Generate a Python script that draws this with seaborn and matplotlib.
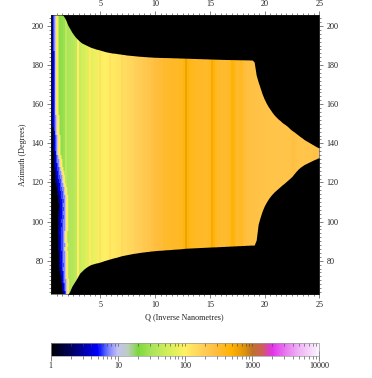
import numpy as np
import matplotlib
matplotlib.use("Agg")
import matplotlib.pyplot as plt
from matplotlib.colors import LinearSegmentedColormap, LogNorm
from matplotlib.ticker import FixedLocator, FixedFormatter, NullFormatter
import seaborn as sns

# Intensity read column by column (each value is one column, Q step about 0.18)
profile = [
    25, 25, 25, 24, 24, 25, 27, 42, 32, 34,
    36, 38, 42, 105, 50, 54, 58, 62, 66, 112,
    72, 76, 80, 85, 125, 90, 96, 100, 104, 125,
    110, 114, 118, 122, 126, 150, 136, 142, 150, 155,
    162, 170, 178, 185, 192, 200, 210, 220, 232, 245,
    258, 270, 285, 295, 305, 315, 325, 332, 340, 345,
    350, 355, 360, 365, 370, 380, 430, 620, 480, 400,
    385, 375, 365, 360, 355, 350, 345, 345, 350, 380,
    560, 470, 370, 345, 335, 330, 330, 330, 335, 360,
    480, 450, 350, 330, 350, 360, 310, 285, 275, 265,
    260, 260, 255, 255, 250, 250, 250, 245, 245, 245,
    245, 245, 240, 240, 240, 240, 245, 245, 245, 250,
    265, 270, 255, 245, 240, 240, 240, 240, 240, 245,
    245, 250, 250, 255,
]
# Upper limit of the covered azimuth for each column
top_azimuth = [
    206.1, 206.1, 206.1, 206.1, 206.1, 206.1, 204.9, 203.1, 200.5, 198.7,
    196.9, 195.4, 194.1, 193.1, 192.1, 191.3, 190.8, 190.3, 189.8, 189.3,
    188.9, 188.6, 188.2, 188.0, 187.7, 187.4, 187.1, 186.8, 186.6, 186.4,
    186.2, 186.1, 186.0, 185.8, 185.7, 185.5, 185.4, 185.2, 185.1, 185.0,
    184.9, 184.8, 184.7, 184.6, 184.5, 184.45, 184.35, 184.3, 184.2, 184.15,
    184.1, 184.0, 184.0, 183.95, 183.9, 183.9, 183.85, 183.85, 183.8, 183.8,
    183.75, 183.7, 183.7, 183.65, 183.6, 183.6, 183.55, 183.5, 183.5, 183.45,
    183.4, 183.4, 183.35, 183.3, 183.3, 183.25, 183.2, 183.2, 183.15, 183.1,
    183.1, 183.05, 183.0, 183.0, 182.95, 182.9, 182.9, 182.85, 182.85, 182.8,
    182.8, 182.8, 182.75, 182.75, 182.7, 182.7, 182.7, 182.65, 182.65, 182.6,
    182.6, 181.6, 174.9, 171.4, 168.3, 165.2, 162.7, 160.6, 158.8, 157.3,
    155.8, 154.5, 153.4, 152.4, 151.6, 150.6, 149.9, 149.2, 148.3, 147.3,
    146.5, 145.8, 145.0, 144.2, 143.4, 142.7, 141.9, 141.3, 140.7, 140.1,
    139.5, 138.9, 138.3, 137.8,
]
# Lower limit of the covered azimuth for each column
bottom_azimuth = [
    62, 62, 62, 62, 62, 62, 62, 62, 62.7, 64.4,
    66.8, 68.5, 70.1, 71.9, 73.7, 74.7, 75.7, 76.5, 77.2, 77.8,
    78.2, 78.5, 78.8, 79.0, 79.3, 79.6, 80.0, 80.3, 80.6, 80.9,
    81.2, 81.5, 81.7, 82.0, 82.3, 82.6, 82.8, 83.0, 83.2, 83.4,
    83.6, 83.8, 83.9, 84.1, 84.25, 84.4, 84.5, 84.65, 84.75, 84.9,
    85.0, 85.1, 85.2, 85.3, 85.35, 85.4, 85.5, 85.6, 85.65, 85.7,
    85.8, 85.9, 85.95, 86.0, 86.1, 86.2, 86.3, 86.4, 86.45, 86.5,
    86.55, 86.6, 86.65, 86.7, 86.75, 86.8, 86.85, 86.9, 86.95, 87.0,
    87.05, 87.1, 87.1, 87.2, 87.2, 87.3, 87.3, 87.4, 87.4, 87.5,
    87.5, 87.6, 87.6, 87.7, 87.7, 87.8, 87.8, 87.9, 87.9, 88.0,
    88.0, 88.0, 90.5, 98.7, 102.3, 105.4, 107.9, 109.8, 111.5, 112.9,
    114.1, 115.2, 116.1, 117.0, 117.9, 118.8, 119.6, 120.5, 121.4, 122.3,
    123.3, 124.6, 125.8, 126.9, 127.8, 128.5, 129.2, 129.7, 130.2, 130.7,
    131.2, 131.7, 132.1, 132.6,
]
# Low-Q beam stop shadow: Q where black ends and where the blue band ends, per 2 degree row
black_end_q = [
    0.54, 0.54, 0.54, 0.54, 0.54, 0.54, 0.54, 0.54, 0.54, 0.54,
    0.54, 0.54, 0.54, 0.54, 0.54, 0.54, 0.54, 0.54, 0.54, 0.54,
    0.54, 0.54, 0.54, 0.54, 0.54, 0.56, 0.57, 0.58, 0.60, 0.61,
    0.62, 0.64, 0.66, 0.67, 0.69, 0.71, 0.73, 0.74, 0.76, 0.79,
    0.83, 0.86, 0.93, 0.98, 1.04, 1.09, 1.13, 1.14, 1.14, 1.13,
    1.12, 1.11, 1.10, 1.09, 1.08, 1.09, 1.10, 1.11, 1.12, 1.14,
    1.15, 1.16, 1.18, 1.22, 1.26, 1.33, 1.37, 1.43, 1.49, 1.57,
]
blue_end_q = [
    0.81, 0.81, 0.81, 0.81, 0.81, 0.81, 0.81, 0.81, 0.81, 0.85,
    0.85, 0.85, 0.85, 0.85, 0.85, 0.85, 0.85, 0.85, 0.85, 0.85,
    0.85, 0.85, 0.85, 0.85, 0.85, 0.88, 0.90, 0.91, 0.93, 0.94,
    0.96, 0.97, 0.98, 1.00, 1.04, 1.09, 1.15, 1.22, 1.28, 1.36,
    1.42, 1.49, 1.55, 1.60, 1.66, 1.72, 1.77, 1.73, 1.77, 1.74,
    1.77, 1.71, 1.75, 1.69, 1.66, 1.68, 1.65, 1.69, 1.68, 1.71,
    1.69, 1.72, 1.74, 1.72, 1.77, 1.77, 1.79, 1.81, 1.84, 1.86,
]
blue_band_values = [2.5, 4.5, 6.0, 7.5]
shoulder_values = [10, 120, 110, 40]

x_ticks = [5, 10, 15, 20, 25]
y_ticks = [80, 100, 120, 140, 160, 180, 200]
cbar_ticks = [1, 10, 100, 1000, 10000]
cbar_labels = ["1", "10", "100", "1000", "10000"]

cmap_stops = [0, 0.0875, 0.175, 0.2, 0.225, 0.25, 0.2875, 0.325, 0.375, 0.45,
              0.5, 0.5625, 0.6125, 0.675, 0.725, 0.75, 0.7875, 0.825, 0.875, 0.925, 1]
cmap_colors = ["#000000", "#00006e", "#0000ff", "#465aff", "#9696ff", "#c3c3f0",
               "#becdbe", "#7dd73c", "#aae45a", "#dcf05a", "#fff064", "#ffd05a",
               "#ffbe40", "#ffb200", "#dc910f", "#be7328", "#cd5f5a", "#e132eb",
               "#e878f0", "#eeb4f5", "#fcf5ff"]

q_min, q_max = 0.45, 25.0
az_min, az_max = 63.0, 205.6
n_cols, n_rows = 268, 279

sns.set_theme(style="ticks")
plt.rcParams["font.family"] = ["Liberation Serif", "DejaVu Serif"]
plt.rcParams["text.color"] = "#222222"

dq = (q_max - q_min) / n_cols
daz = (az_max - az_min) / n_rows
q = q_min + (np.arange(n_cols) + 0.5) * dq

field = np.tile(np.repeat(np.array(profile, float), 2), (n_rows, 1))
black_rows = np.repeat(black_end_q, 4)[:n_rows]
blue_rows = np.repeat(blue_end_q, 4)[:n_rows]
for r in range(n_rows):
    b0, b1 = black_rows[r], blue_rows[r]
    field[r, q < b0] = 1.0
    band = (q >= b0) & (q < b1)
    idx = np.minimum(((q[band] - b0) / (b1 - b0) * len(blue_band_values)).astype(int),
                     len(blue_band_values) - 1)
    field[r, band] = np.array(blue_band_values)[idx]
    i0 = np.searchsorted(q, b1)
    field[r, i0:i0 + len(shoulder_values)] = shoulder_values

cmap = LinearSegmentedColormap.from_list("saxs", list(zip(cmap_stops, cmap_colors)), N=512)

W, H = 372.0, 378.0
fig = plt.figure(figsize=(W / 100, H / 100), dpi=100, facecolor="white")
ax = fig.add_axes([50.7 / W, 1 - 294.0 / H, 268.6 / W, 279.0 / H])
cax = fig.add_axes([50.7 / W, 1 - 355.7 / H, 268.6 / W, 12.4 / H])
ax.set_facecolor("black")

sns.heatmap(field, cmap=cmap, norm=LogNorm(1, 10000), ax=ax, cbar_ax=cax,
            cbar_kws={"orientation": "horizontal"}, xticklabels=False, yticklabels=False,
            linewidths=0, rasterized=True)


def xpos(v):
    return (np.asarray(v, float) - q_min) / dq


def ypos(v):
    return (az_max - np.asarray(v, float)) / daz


# Black outside the covered region, with its edge drawn from the edge lists
col_x = np.r_[0.0, np.arange(len(top_azimuth)) * 2 + 1.0, float(n_cols)]
top_y = ypos(np.r_[top_azimuth[0], top_azimuth, top_azimuth[-1]])
bottom_y = ypos(np.r_[bottom_azimuth[0], bottom_azimuth, bottom_azimuth[-1]])
ax.fill_between(col_x, -5, top_y, color="black", lw=0, zorder=3)
ax.fill_between(col_x, bottom_y, n_rows + 5, color="black", lw=0, zorder=3)
ax.set_xlim(0, n_cols)
ax.set_ylim(n_rows, 0)

ax.set_xticks(xpos(x_ticks))
ax.set_xticklabels([str(t) for t in x_ticks])
ax.set_xticks(xpos(np.arange(1.0, 25.01, 0.5)), minor=True)
ax.set_yticks(ypos(y_ticks))
ax.set_yticklabels([str(t) for t in y_ticks], rotation=0)
ax.set_yticks(ypos(np.arange(64, 205, 2)), minor=True)
ax.tick_params(which="major", direction="out", length=3.0, width=0.4, color="#222222", pad=2.2,
               labelsize=5.9, labelcolor="#222222", top=True, bottom=True, left=True, right=True,
               labeltop=True, labelbottom=True, labelleft=True, labelright=True)
ax.tick_params(which="minor", direction="out", length=1.5, width=0.4, color="#222222",
               top=True, bottom=True, left=True, right=True)
for s in ax.spines.values():
    s.set_visible(True)
    s.set_linewidth(0.4)
    s.set_color("#222222")
    s.set_zorder(5)

fig.text(184.7 / W, 1 - 316.7 / H, "Q (Inverse Nanometres)", ha="center", va="center",
         fontsize=5.9, color="#222222")
fig.text(23.0 / W, 1 - 155.0 / H, "Azimuth (Degrees)", ha="center", va="center",
         rotation=90, fontsize=5.9, color="#222222")

cb = ax.collections[0].colorbar
cb.outline.set_linewidth(0.5)
cb.outline.set_edgecolor("#999999")
cax.xaxis.set_major_locator(FixedLocator(cbar_ticks))
cax.xaxis.set_major_formatter(FixedFormatter(cbar_labels))
minor = [m * 10 ** e for e in range(4) for m in range(2, 10)]
cax.xaxis.set_minor_locator(FixedLocator(minor))
cax.xaxis.set_minor_formatter(NullFormatter())
cax.tick_params(axis="x", which="major", direction="inout", length=6.5, width=0.4, color="#222222",
                labelsize=5.9, labelcolor="#222222", pad=1.5, top=False, bottom=True)
cax.tick_params(axis="x", which="minor", direction="inout", length=3.6, width=0.4, color="#333333",
                top=False, bottom=True)
for v in cbar_ticks + minor:
    cax.plot([v, v], [0.82, 1.0], color="#444444", lw=0.4, transform=cax.get_xaxis_transform(),
             clip_on=True)

fig.savefig("out.png", dpi=100, facecolor="white")
